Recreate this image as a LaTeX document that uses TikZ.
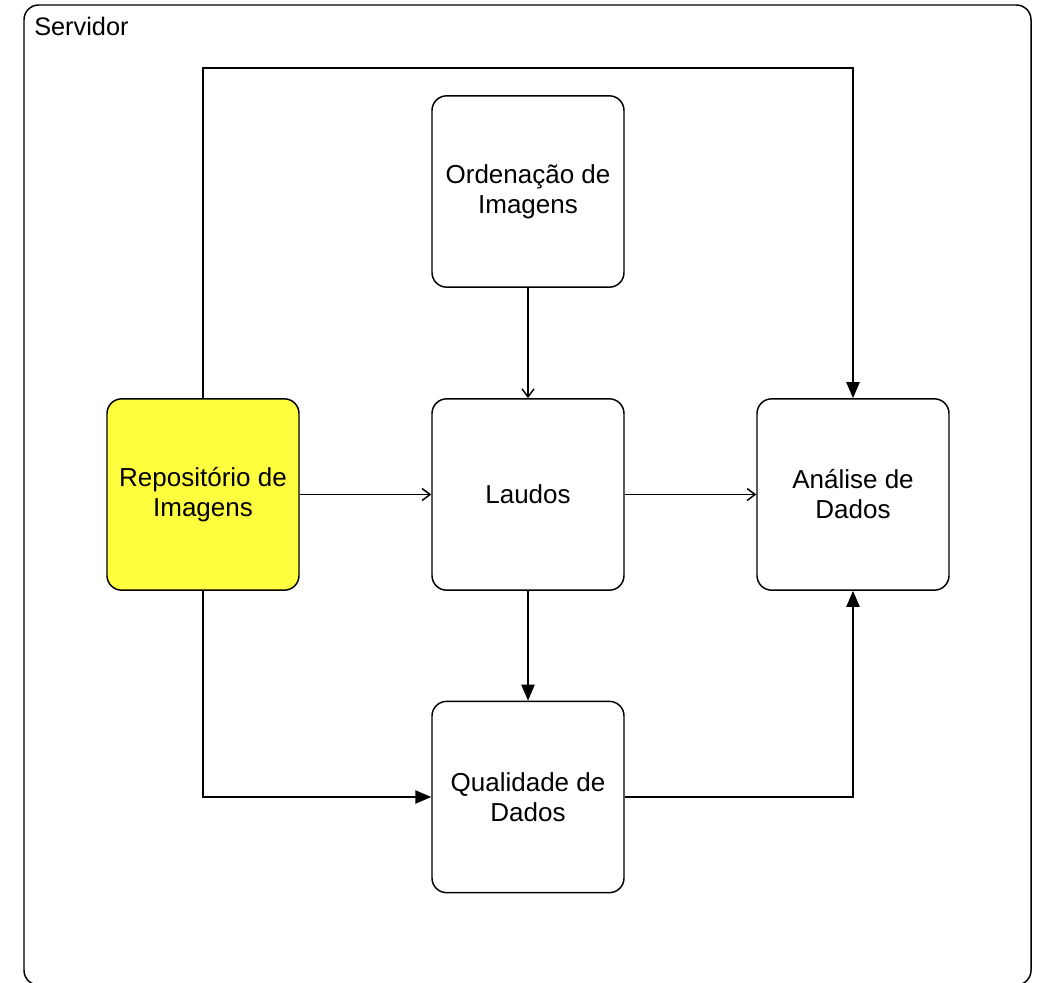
\documentclass[tikz,border=0pt]{standalone}
\usepackage{fontspec}
\setmainfont{Liberation Sans}
\usetikzlibrary{arrows.meta}
\definecolor{repoyellow}{RGB}{255,255,64}
\begin{document}
\begin{tikzpicture}[x=0.75pt,y=-0.75pt,
  box/.style={draw=black, line width=1.1pt, rounded corners=11pt, minimum width=144pt, minimum height=143.5pt, align=center, font=\fontsize{19.5}{22.5}\selectfont, inner sep=0pt},
  conn/.style={draw=black, line width=1.1pt},
  openarr/.style={conn, -{Straight Barb[length=6pt,width=9pt,line width=1.1pt]}},
  fillarr/.style={conn, -{Triangle[length=12pt,width=10pt]}}]
\useasboundingbox (0,0) rectangle (1041,982);
\begin{scope}
\clip (0,0) rectangle (1041,982);
\draw[line width=1.1pt, rounded corners=11pt] (24,5) rectangle (1031,985);
\end{scope}
\node[anchor=base west, font=\fontsize{19}{22.5}\selectfont, inner sep=0pt] (srv) at (34,35) {Servidor};
\node[box, fill=repoyellow] (repo) at (203,494.5) {Repositório de\\Imagens};
\node[box] (ord) at (528,191.5) {Ordenação de\\Imagens};
\node[box] (lau) at (528,494.5) {Laudos};
\node[box] (ana) at (853,494.5) {Análise de\\Dados};
\node[box] (qual) at (528,797) {Qualidade de\\Dados};
\coordinate (tl) at (203,68);
\coordinate (tr) at (853,68);
\coordinate (bl) at (203,797);
\coordinate (br) at (853,797);
\draw[fillarr] (repo.north) -- (tl) -- (tr) -- (ana.north);
\draw[openarr] (ord.south) -- (lau.north);
\draw[openarr] (repo.east) -- (lau.west);
\draw[openarr] (lau.east) -- (ana.west);
\draw[fillarr] (lau.south) -- (qual.north);
\draw[fillarr] (repo.south) -- (bl) -- (qual.west);
\draw[fillarr] (qual.east) -- (br) -- (ana.south);
\end{tikzpicture}
\end{document}
